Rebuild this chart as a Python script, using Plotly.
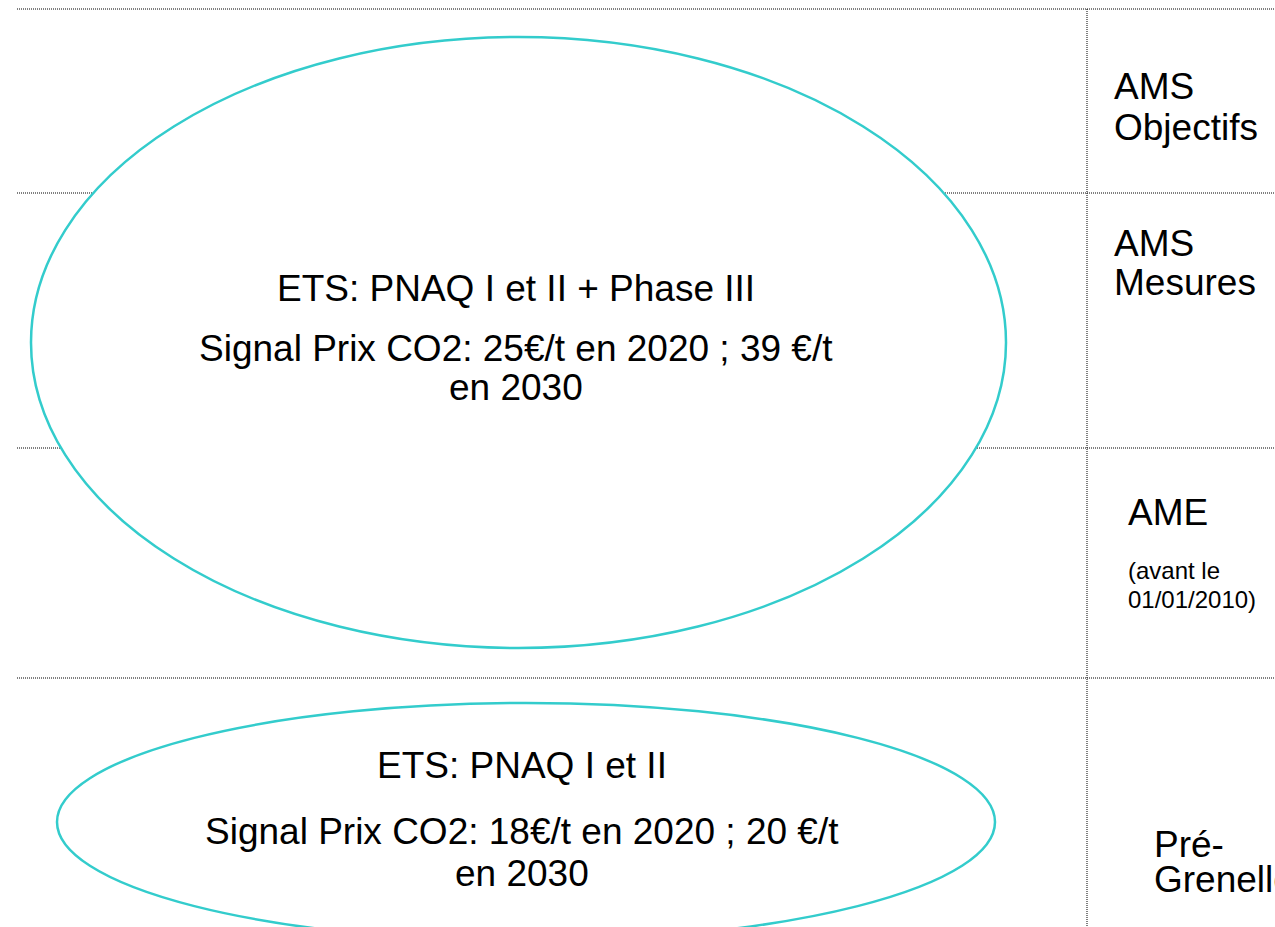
import plotly.graph_objects as go

# ---- content (text of the diagram) ----
row_titles = [["AMS", "Objectifs"], ["AMS", "Mesures"], ["AME"], ["Pré-", "Grenelle"]]
ame_note = ["(avant le", "01/01/2010)"]
big_ellipse_text = ["ETS: PNAQ I et II + Phase III",
                    "Signal Prix CO2: 25€/t en 2020 ; 39 €/t",
                    "en 2030"]
small_ellipse_text = ["ETS: PNAQ I et II",
                      "Signal Prix CO2: 18€/t en 2020 ; 20 €/t",
                      "en 2030"]

W, H = 1275, 927
FONT = "Arial, 'Liberation Sans', sans-serif"
TEAL = "#33CCCC"
DOT = dict(color="#000000", width=1, dash="1px,1px")

fig = go.Figure()

shapes = []
# row separators
for yy in [9, 193, 448, 678]:
    shapes.append(dict(type="line", x0=17, x1=W, y0=yy, y1=yy, line=DOT, layer="above"))
# column separator
shapes.append(dict(type="line", x0=1087, x1=1087, y0=9, y1=H, line=DOT, layer="above"))
# ellipses (white fill hides the separators behind them)
shapes.append(dict(type="circle", x0=31, x1=1006, y0=37, y1=648,
                   line=dict(color=TEAL, width=2.5), fillcolor="white", layer="above"))
shapes.append(dict(type="circle", x0=57, x1=995, y0=703, y1=941,
                   line=dict(color=TEAL, width=2.5), fillcolor="white", layer="above"))

ann = []
def txt(x, y, s, size=37, xanchor="left"):
    ann.append(dict(x=x, y=y, text=s, showarrow=False, xanchor=xanchor, yanchor="middle",
                    font=dict(family=FONT, size=size, color="black"), xref="x", yref="y"))

# right-hand row titles
txt(1112, 86, row_titles[0][0]); txt(1112, 127, row_titles[0][1])
txt(1112, 243, row_titles[1][0]); txt(1112, 282, row_titles[1][1])
txt(1126, 512, row_titles[2][0])
txt(1126, 570, ame_note[0], size=24); txt(1126, 599, ame_note[1], size=24)
txt(1152, 844, row_titles[3][0]); txt(1152, 879, row_titles[3][1])

# ellipse texts
for (yy, s) in zip([288, 348, 387], big_ellipse_text):
    txt(516, yy, s, xanchor="center")
for (yy, s) in zip([765, 831, 873], small_ellipse_text):
    txt(522, yy, s, xanchor="center")

fig.update_layout(
    width=W, height=H, margin=dict(l=0, r=0, t=0, b=0),
    paper_bgcolor="white", plot_bgcolor="white",
    xaxis=dict(range=[0, W], visible=False, fixedrange=True),
    yaxis=dict(range=[H, 0], visible=False, fixedrange=True),
    shapes=shapes, annotations=ann, showlegend=False,
)

fig.write_html("out.html", config={"displayModeBar": False},
               post_script="document.body.style.margin='0';document.body.style.overflow='hidden';")
